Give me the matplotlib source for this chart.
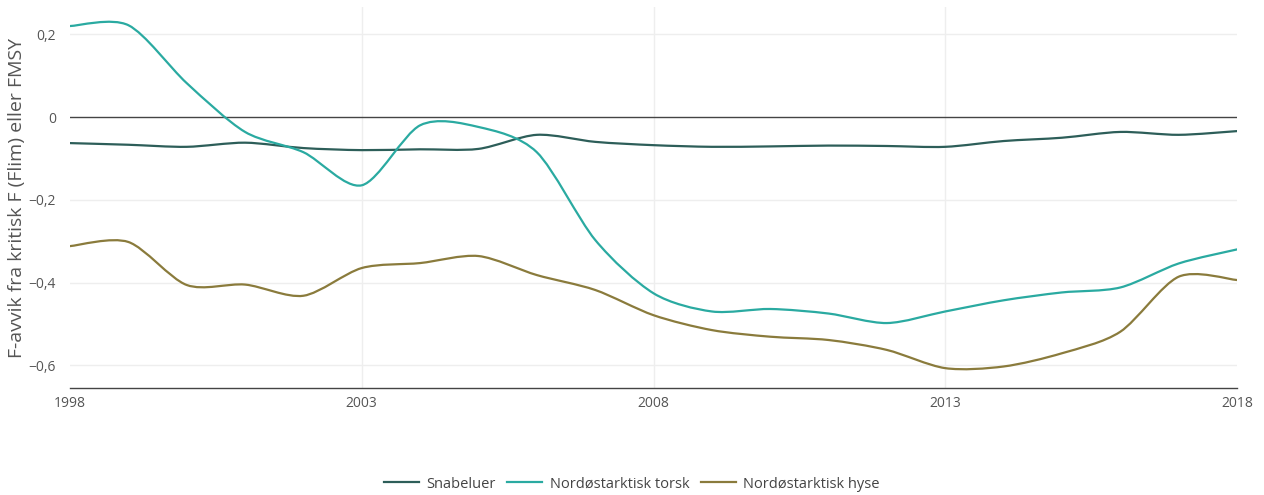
import matplotlib
matplotlib.use("Agg")
import matplotlib.pyplot as plt
from matplotlib.path import Path
from matplotlib.patches import PathPatch
from matplotlib.lines import Line2D
from matplotlib.ticker import FuncFormatter

plt.rcParams['font.family'] = ['Open Sans', 'DejaVu Sans']

years = list(range(1998, 2019))
snabeluer = [-0.063, -0.067, -0.072, -0.062, -0.075, -0.080, -0.078, -0.077, -0.043, -0.060,
             -0.068, -0.072, -0.071, -0.069, -0.070, -0.072, -0.058, -0.050, -0.036, -0.043, -0.034]
torsk = [0.220, 0.222, 0.082, -0.036, -0.085, -0.165, -0.020, -0.024, -0.085, -0.297,
         -0.426, -0.470, -0.464, -0.475, -0.498, -0.470, -0.443, -0.424, -0.412, -0.354, -0.320]
hyse = [-0.312, -0.302, -0.406, -0.405, -0.432, -0.365, -0.353, -0.336, -0.382, -0.418,
        -0.479, -0.515, -0.531, -0.539, -0.563, -0.607, -0.603, -0.571, -0.519, -0.386, -0.394]

series_names = ["Snabeluer", "Nordøstarktisk torsk", "Nordøstarktisk hyse"]
colors = ["#2d5e59", "#2aaaa1", "#8a7b3c"]
y_ticks = [0.2, 0, -0.2, -0.4, -0.6]
x_ticks = [1998, 2003, 2008, 2013, 2018]


def spline_path(xs, ys, k=1/7):
    verts = [(xs[0], ys[0])]
    codes = [Path.MOVETO]
    n = len(xs)
    for i in range(n - 1):
        i0 = max(i - 1, 0)
        i3 = min(i + 2, n - 1)
        c1 = (xs[i] + (xs[i + 1] - xs[i0]) * k, ys[i] + (ys[i + 1] - ys[i0]) * k)
        c2 = (xs[i + 1] - (xs[i3] - xs[i]) * k, ys[i + 1] - (ys[i3] - ys[i]) * k)
        verts += [c1, c2, (xs[i + 1], ys[i + 1])]
        codes += [Path.CURVE4] * 3
    return Path(verts, codes)


fig = plt.figure(figsize=(12.64, 4.95), dpi=100)
ax = fig.add_axes([70 / 1264, 1 - 388 / 495, (1237 - 70) / 1264, (388 - 7) / 495])

ax.set_xlim(1998, 2018)
ax.set_ylim(-0.655, 0.266)

for yt in y_ticks:
    if yt == 0:
        ax.axhline(0, color="#444444", lw=1.0, zorder=2)
    else:
        ax.axhline(yt, color="#eeeeee", lw=1.0, zorder=1)
for xt in x_ticks[1:-1]:
    ax.axvline(xt, color="#eeeeee", lw=1.0, zorder=1)

handles = []
for name, vals, c in zip(series_names, [snabeluer, torsk, hyse], colors):
    p = PathPatch(spline_path(years, vals), facecolor="none", edgecolor=c, lw=1.6,
                  transform=ax.transData, zorder=3, capstyle="round", joinstyle="round")
    ax.add_patch(p)
    handles.append(Line2D([], [], color=c, lw=1.6, label=name))

for s in ["top", "right", "left"]:
    ax.spines[s].set_visible(False)
ax.spines["bottom"].set_color("#444444")
ax.spines["bottom"].set_linewidth(1.0)

ax.set_yticks(y_ticks)
ax.yaxis.set_major_formatter(FuncFormatter(
    lambda v, p: "0" if abs(v) < 1e-9 else ("{:.1f}".format(v).replace(".", ",").replace("-", "\u2212"))))
ax.set_xticks(x_ticks)
ax.set_xticklabels([str(x) for x in x_ticks])
ax.tick_params(axis="both", length=0, labelsize=10, colors="#555555")
ax.tick_params(axis="y", pad=10)
ax.tick_params(axis="x", pad=6)

ax.set_ylabel("F-avvik fra kritisk F (Flim) eller FMSY", fontsize=14, color="#555555", labelpad=2)

fig.legend(handles=handles, loc="center", bbox_to_anchor=(0.5, 1 - 484 / 495), ncol=3,
           frameon=False, fontsize=10.5, handlelength=2.4, columnspacing=0.8, labelcolor="#444444",
           handletextpad=0.5)

fig.savefig("out.png", dpi=100, facecolor="white")
